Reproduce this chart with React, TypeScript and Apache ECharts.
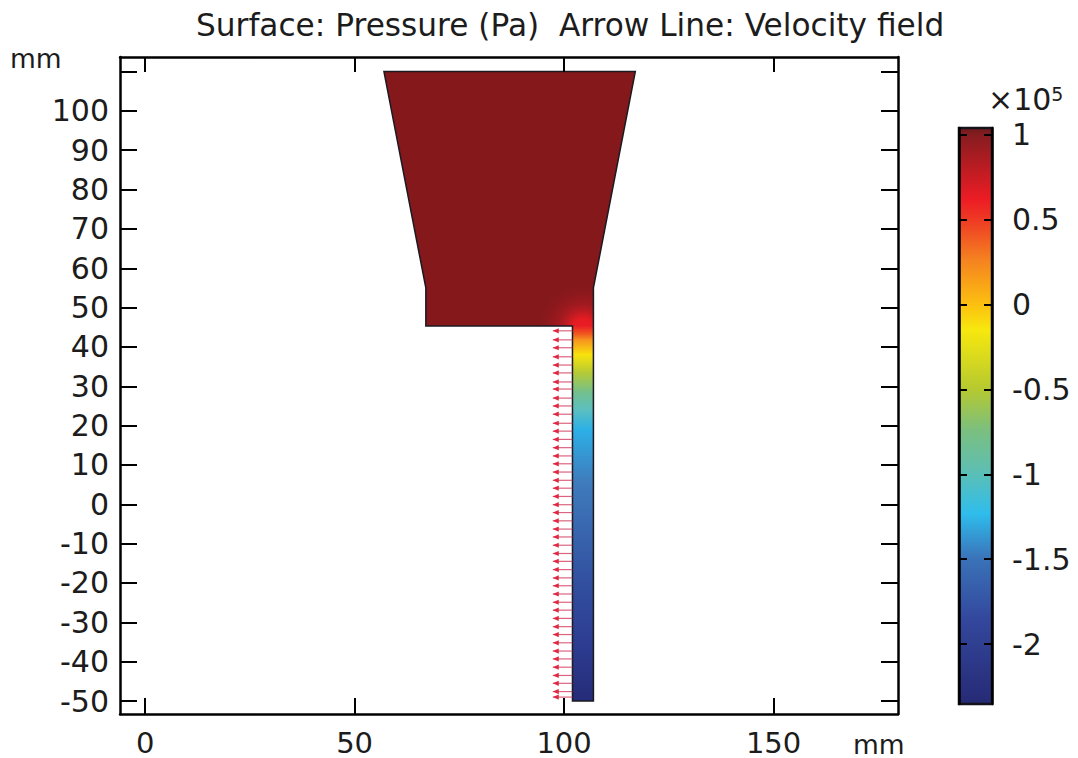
import React, { useEffect, useRef } from "react";
import * as echarts from "echarts";

const xTicks = [0, 50, 100, 150];
const yTicks = [-50, -40, -30, -20, -10, 0, 10, 20, 30, 40, 50, 60, 70, 80, 90, 100];
const yTickMarks = [...yTicks, 110];
const barTicks = [-2, -1.5, -1, -0.5, 0, 0.5, 1];

const bodyX = [57, 117, 107, 107, 102, 67, 67];
const bodyY = [110, 110, 55, 45.3, 45.3, 45.3, 55];
const channelX = [102, 107];
const channelY = [-50, 45.3];

const channelStopY = [45.3, 43.5, 41.8, 38, 33.5, 28.4, 24, 19, 6, -20, -35, -50];
const channelStopColor = ["#e92026", "#f0511f", "#f7931e", "#f8e30c", "#b6ca35", "#72c08e", "#5cbfc0", "#2cb0e6", "#3f7cbd", "#324f9f", "#2d3d92", "#252c78"];

const barStopValue = [1.041, 1, 0.62, 0.5, 0.265, 0, -0.15, -0.5, -0.74, -0.97, -1.23, -1.5, -1.86, -2.353];
const barStopColor = ["#6e1a1c", "#861c20", "#ed1c24", "#ee3a24", "#f58220", "#fcc010", "#f7e80e", "#b5c930", "#7bbf7f", "#5fbfb0", "#2fbdec", "#3a72b8", "#33479c", "#262a75"];

const arrowY = [44.1, 41.8, 39.8, 37.5, 35.4, 33.4, 31.1, 29.3, 27, 25, 22.9, 20.6, 18.6, 16.5, 14.4, 12.3, 10.3, 8.2, 6.1, 4.1, 2, -0.1, -2.1, -4.2, -6.3, -8.3, -10.4, -12.5, -14.5, -16.6, -18.7, -20.7, -22.8, -24.9, -26.9, -29, -31.1, -33.1, -35.2, -37.3, -39.3, -41.4, -43.5, -45.5, -47.6, -49];
const arrowBaseX = 102;
const arrowTipX = 97.3;

const FONT = "DejaVu Sans";
const INK = "#1c1c1c";
const FS = 30;

const sideAxis = (position: string, ticks: number[], min: number, max: number, tickLen: number, labels: boolean, extra: any = {}) => ({
  type: "value",
  position,
  min,
  max,
  z: 8,
  splitLine: { show: false },
  axisLine: { show: true, onZero: false, lineStyle: { color: "#000", width: 2.5 } },
  axisTick: { show: true, inside: true, length: tickLen, customValues: ticks, lineStyle: { color: "#000", width: 2 } },
  axisLabel: labels
    ? { show: true, customValues: ticks.filter((t) => t !== 110), color: INK, fontFamily: FONT, fontSize: FS, margin: 11, hideOverlap: false, ...extra }
    : { show: false },
});

export default function App() {
  const ref = useRef<HTMLDivElement>(null);
  useEffect(() => {
    const chart = echarts.init(ref.current!, undefined, { renderer: "svg" });
    const xMin = -6, xMax = 179.7, yMin = -53.3, yMax = 113.7;
    const barMin = -2.353, barMax = 1.041;
    const option: any = {
      animation: false,
      backgroundColor: "#fff",
      title: {
        text: "Surface: Pressure (Pa)  Arrow Line: Velocity field",
        left: 191,
        top: 1,
        textStyle: { fontFamily: FONT, fontSize: 31.2, lineHeight: 38, fontWeight: "normal", color: INK },
      },
      grid: [
        { left: 120, top: 57, width: 778, height: 657 },
        { left: 959, top: 128, width: 33, height: 576 },
      ],
      xAxis: [
        { gridIndex: 0, ...sideAxis("bottom", xTicks, xMin, xMax, 16, true, { margin: 14, fontSize: 29 }) },
        { gridIndex: 0, ...sideAxis("top", xTicks, xMin, xMax, 15, false) },
        { gridIndex: 1, type: "value", min: 0, max: 1, show: false },
      ],
      yAxis: [
        { gridIndex: 0, ...sideAxis("left", yTickMarks, yMin, yMax, 17, true) },
        { gridIndex: 0, ...sideAxis("right", yTickMarks, yMin, yMax, 17, false) },
        { gridIndex: 1, ...sideAxis("right", barTicks, barMin, barMax, 8, true, { margin: 20 }) },
        { gridIndex: 1, ...sideAxis("left", barTicks, barMin, barMax, 8, false) },
      ],
      graphic: [
        { type: "text", x: 10, y: 45, z: 10, style: { text: "mm", fontFamily: FONT, fontSize: 26.5, lineHeight: 26, fill: INK } },
        { type: "text", x: 853, y: 731, z: 10, style: { text: "mm", fontFamily: FONT, fontSize: 26.5, lineHeight: 26, fill: INK } },
        {
          type: "text",
          x: 988,
          y: 84,
          z: 10,
          style: {
            text: "×10{s|5}",
            fontFamily: FONT,
            fontSize: 30,
            fill: INK,
            rich: { s: { fontFamily: FONT, fontSize: 19, fill: INK, verticalAlign: "top", lineHeight: 26 } },
          },
        },
      ],
      series: [
        {
          type: "custom",
          xAxisIndex: 0,
          yAxisIndex: 0,
          silent: true,
          z: 2,
          data: [[bodyX[0], bodyY[0]]],
          renderItem: (_p: any, api: any) => {
            const pts = bodyX.map((x, i) => api.coord([x, bodyY[i]]));
            const chA = api.coord([channelX[0], channelY[1]]);
            const chB = api.coord([channelX[1], channelY[0]]);
            const glow = api.coord([104.5, 44.5]);
            return {
              type: "group",
              children: [
                { type: "polygon", shape: { points: pts }, style: { fill: "#84181b" } },
                {
                  type: "polygon",
                  shape: { points: pts },
                  style: {
                    fill: new echarts.graphic.RadialGradient(glow[0], glow[1], 50, [
                      { offset: 0, color: "rgba(238,28,36,1)" },
                      { offset: 0.22, color: "rgba(232,28,36,0.95)" },
                      { offset: 0.5, color: "rgba(190,28,36,0.5)" },
                      { offset: 1, color: "rgba(132,24,27,0)" },
                    ], true),
                  },
                },
                {
                  type: "rect",
                  shape: { x: chA[0], y: chA[1], width: chB[0] - chA[0], height: chB[1] - chA[1] },
                  style: {
                    fill: new echarts.graphic.LinearGradient(0, 0, 0, 1,
                      channelStopY.map((y, i) => ({
                        offset: (channelY[1] - y) / (channelY[1] - channelY[0]),
                        color: channelStopColor[i],
                      }))),
                  },
                },
                {
                  type: "polygon",
                  shape: {
                    points: [
                      api.coord([bodyX[0], bodyY[0]]),
                      api.coord([bodyX[1], bodyY[1]]),
                      api.coord([bodyX[2], bodyY[2]]),
                      api.coord([channelX[1], channelY[0]]),
                      api.coord([channelX[0], channelY[0]]),
                      api.coord([channelX[0], channelY[1]]),
                      api.coord([bodyX[5], bodyY[5]]),
                      api.coord([bodyX[6], bodyY[6]]),
                    ],
                  },
                  style: { fill: "none", stroke: "#1a1a22", lineWidth: 1.5 },
                },
              ],
            };
          },
        },
        {
          type: "custom",
          xAxisIndex: 0,
          yAxisIndex: 0,
          silent: true,
          z: 3,
          data: arrowY.map((y) => [arrowTipX, y]),
          renderItem: (_p: any, api: any) => {
            const y = api.value(1);
            const base = api.coord([arrowBaseX, y]);
            const tip = api.coord([api.value(0), y]);
            return {
              type: "group",
              children: [
                { type: "line", shape: { x1: base[0], y1: base[1], x2: tip[0], y2: tip[1] }, style: { stroke: "rgba(205,50,85,0.75)", lineWidth: 1.2 } },
                {
                  type: "polygon",
                  shape: { points: [[tip[0], tip[1]], [tip[0] + 6, tip[1] - 2.6], [tip[0] + 6, tip[1] + 2.6]] },
                  style: { fill: "#e0283f" },
                },
              ],
            };
          },
        },
        {
          type: "custom",
          xAxisIndex: 2,
          yAxisIndex: 2,
          silent: true,
          z: 1,
          data: [[0, barMax]],
          renderItem: (_p: any, api: any) => {
            const a = api.coord([0, barMax]);
            const b = api.coord([1, barMin]);
            return {
              type: "rect",
              shape: { x: a[0], y: a[1], width: b[0] - a[0], height: b[1] - a[1] },
              style: {
                stroke: "#14121a",
                lineWidth: 2.5,
                fill: new echarts.graphic.LinearGradient(0, 0, 0, 1,
                  barStopValue.map((v, i) => ({
                    offset: (barMax - v) / (barMax - barMin),
                    color: barStopColor[i],
                  }))),
              },
            };
          },
        },
      ],
    };
    chart.setOption(option);
    return () => chart.dispose();
  }, []);
  return <div ref={ref} style={{ position: "fixed", left: 0, top: 0, width: 1078, height: 758 }} />;
}
